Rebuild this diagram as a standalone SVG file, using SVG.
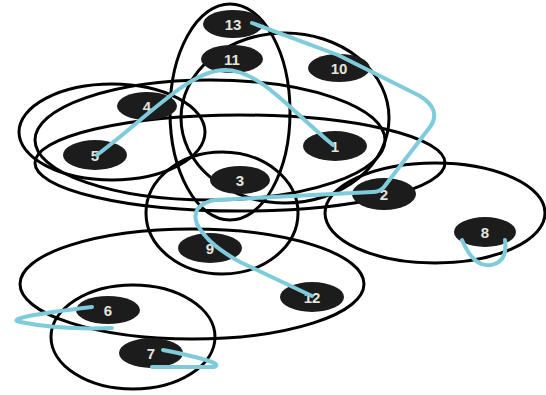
<svg xmlns="http://www.w3.org/2000/svg" width="546" height="395" viewBox="0 0 546 395">
<style>
.he{fill:none;stroke:#000;stroke-width:3}
.nd{fill:#1c1c1c}
.lb{font-family:"Liberation Sans",Arial,sans-serif;font-weight:bold;font-size:15px;fill:#e4e4dc;text-anchor:middle;dominant-baseline:central}
.cn{fill:none;stroke:#7ecbdc;stroke-width:4;stroke-linecap:round;stroke-linejoin:round}
</style>
<rect width="546" height="395" fill="#fff"/>
<g id="hyperedges">
<ellipse class="he" cx="230" cy="112" rx="60" ry="108"/>
<ellipse class="he" cx="285" cy="118" rx="104" ry="85"/>
<ellipse class="he" cx="112" cy="132" rx="93" ry="48"/>
<ellipse class="he" cx="210" cy="140" rx="175" ry="60"/>
<ellipse class="he" cx="240" cy="163" rx="205" ry="48"/>
<ellipse class="he" cx="222" cy="213" rx="76" ry="61"/>
<ellipse class="he" cx="435" cy="213" rx="110" ry="50"/>
<ellipse class="he" cx="192" cy="284" rx="172" ry="55"/>
<ellipse class="he" cx="133" cy="337" rx="82" ry="52"/>
</g>
<g id="node-13"><ellipse class="nd" cx="233" cy="24" rx="30" ry="14"/><text class="lb" x="233" y="24">13</text></g>
<g id="node-11"><ellipse class="nd" cx="232" cy="59" rx="31" ry="14"/><text class="lb" x="232" y="59">11</text></g>
<g id="node-10"><ellipse class="nd" cx="339" cy="68" rx="31" ry="14"/><text class="lb" x="339" y="68">10</text></g>
<g id="node-4"><ellipse class="nd" cx="147" cy="106" rx="30" ry="14"/><text class="lb" x="147" y="106">4</text></g>
<g id="node-5"><ellipse class="nd" cx="95" cy="155" rx="32" ry="15"/><text class="lb" x="95" y="155">5</text></g>
<g id="node-1"><ellipse class="nd" cx="335" cy="146" rx="32" ry="15"/><text class="lb" x="335" y="146">1</text></g>
<g id="node-3"><ellipse class="nd" cx="240" cy="180" rx="30" ry="14"/><text class="lb" x="240" y="180">3</text></g>
<g id="node-2"><ellipse class="nd" cx="384" cy="194" rx="32" ry="16"/><text class="lb" x="384" y="194">2</text></g>
<g id="node-8"><ellipse class="nd" cx="485" cy="232" rx="31" ry="15"/><text class="lb" x="485" y="232">8</text></g>
<g id="node-9"><ellipse class="nd" cx="210" cy="248" rx="32" ry="15"/><text class="lb" x="210" y="248">9</text></g>
<g id="node-12"><ellipse class="nd" cx="312" cy="297" rx="32" ry="15"/><text class="lb" x="312" y="297">12</text></g>
<g id="node-6"><ellipse class="nd" cx="108" cy="310" rx="32" ry="14"/><text class="lb" x="108" y="310">6</text></g>
<g id="node-7"><ellipse class="nd" cx="151" cy="353" rx="32" ry="15"/><text class="lb" x="151" y="353">7</text></g>
<g id="connectors">
<path class="cn" d="M252 23 L338 55 L420 96 Q442 110 430 127 L384 187 Q380 192 372 192 L215 200 Q190 205 197 224 Q207 244 240 262 L312 296"/>
<path class="cn" d="M97 155 C150 115 190 70 225 70 C260 70 290 110 333 145"/>
<path class="cn" d="M92 307 Q0 318 20 322 Q60 330 112 328"/>
<path class="cn" d="M163 350 Q228 363 214 367 L152 367"/>
<path class="cn" d="M462 240 Q474 268 491 265 Q508 262 505 240"/>
</g>
</svg>
